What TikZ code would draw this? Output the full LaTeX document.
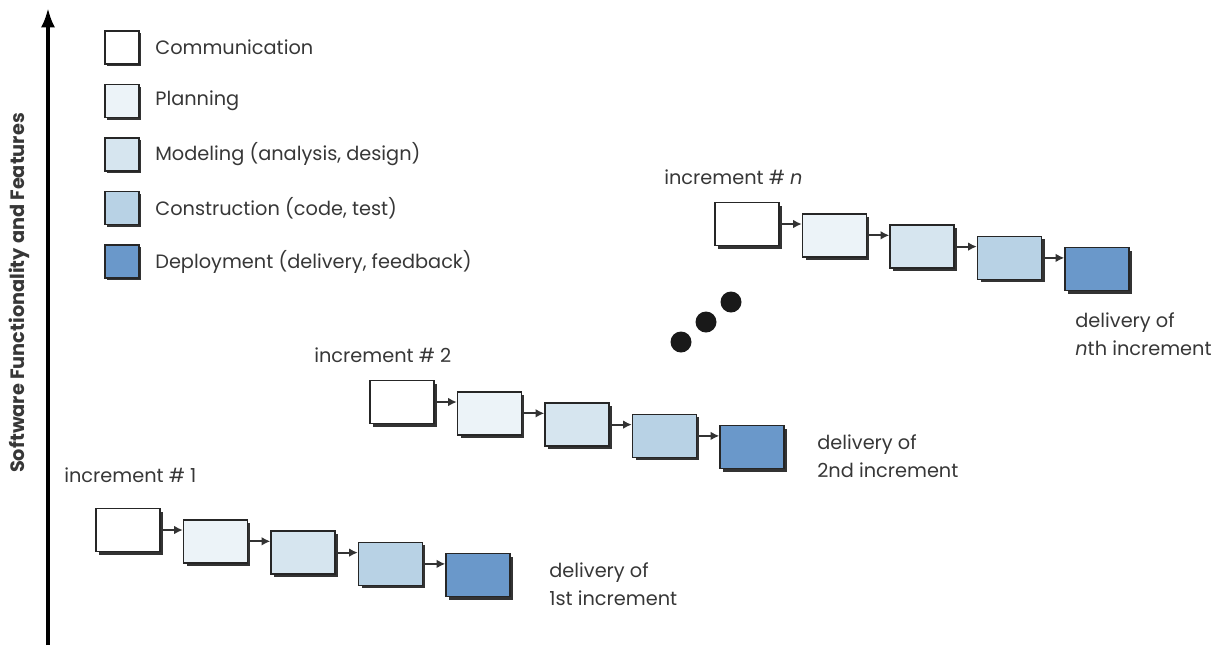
\documentclass[tikz,border=0pt]{standalone}
\usepackage{fontspec}
\setmainfont{Poppins}
\usetikzlibrary{positioning,shadows,arrows.meta}

\definecolor{commcol}{RGB}{255,255,255}
\definecolor{plancol}{RGB}{236,243,248}
\definecolor{modcol}{RGB}{214,229,239}
\definecolor{conscol}{RGB}{184,210,229}
\definecolor{depcol}{RGB}{106,152,202}
\definecolor{txtcol}{RGB}{55,55,55}

\tikzset{
  phase/.style={draw=black!85, line width=0.8pt, minimum width=1.28cm, minimum height=0.86cm, inner sep=0pt,
    drop shadow={shadow xshift=0.6mm, shadow yshift=-0.6mm, fill=black!80, opacity=1}},
  legendbox/.style={draw=black!85, line width=0.8pt, minimum width=0.68cm, minimum height=0.66cm, inner sep=0pt,
    drop shadow={shadow xshift=0.4mm, shadow yshift=-0.4mm, fill=black!80, opacity=1}},
  lbl/.style={text=txtcol, font=\fontsize{11}{16}\selectfont, inner sep=0pt},
  flow/.style={-{Latex[length=5pt,width=5pt]}, line width=1.2pt, black!80},
  dot/.style={circle, fill=black!90, minimum size=0.42cm, inner sep=0pt}
}

\begin{document}
\begin{tikzpicture}[x=0.02cm, y=-0.02cm]
    \useasboundingbox (0,0) rectangle (1225,654);
    % axis
    \coordinate (axbot) at (48,645);
    \coordinate (axtop) at (48,8);
    \draw[-{Latex[length=11pt,width=8pt]}, line width=2pt] (axbot) -- (axtop);
    \node[rotate=90, text=txtcol, font=\bfseries\fontsize{11}{12}\selectfont] (axlabel) at (19,293) {Software Functionality and Features};
    % legend
    \foreach \col/\txt [count=\i] in {commcol/Communication, plancol/Planning, modcol/{Modeling (analysis, design)}, conscol/{Construction (code, test)}, depcol/{Deployment (delivery, feedback)}} {
        \node[legendbox, fill=\col] (leg\i) at (122,{47.5+53.5*(\i-1)}) {};
        \node[lbl, anchor=west] (legtxt\i) at (155,{47.5+53.5*(\i-1)}) {\txt};
    }
    % increments
    \foreach \r/\x/\y in {1/128/530, 2/402/402, n/747/224} {
        \foreach \col/\nm [count=\j] in {commcol/c, plancol/p, modcol/m, conscol/k, depcol/d}
            \node[phase, fill=\col] (\nm\r) at ({\x+87.5*(\j-1)},{\y+11.3*(\j-1)}) {};
        \draw[flow] (c\r.east) -- (c\r.east -| p\r.west);
        \draw[flow] (p\r.east) -- (p\r.east -| m\r.west);
        \draw[flow] (m\r.east) -- (m\r.east -| k\r.west);
        \draw[flow] (k\r.east) -- (k\r.east -| d\r.west);
    }
    % labels
    \node[lbl, anchor=west] (inc1) at (64,475) {increment \# 1};
    \node[lbl, anchor=west] (inc2) at (314,355) {increment \# 2};
    \node[lbl, anchor=west] (incn) at (664,177) {increment \# \textit{n}};
    \node[lbl, anchor=west, align=left] (del1) at (549,584) {delivery of\\1st increment};
    \node[lbl, anchor=west, align=left] (del2) at (817,456) {delivery of\\2nd increment};
    \node[lbl, anchor=west, align=left] (deln) at (1075,334) {delivery of\\\textit{n}th increment};
    % dots
    \node[dot] (dot1) at (681,342) {};
    \node[dot] (dot2) at (706,322) {};
    \node[dot] (dot3) at (731,302) {};
\end{tikzpicture}
\end{document}
